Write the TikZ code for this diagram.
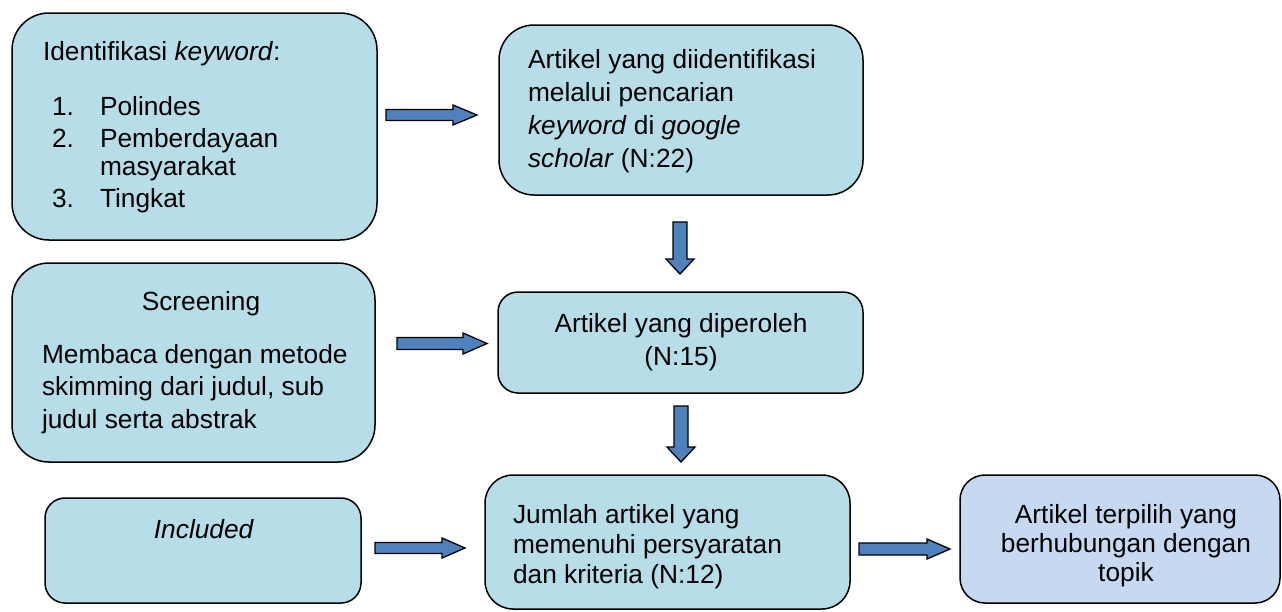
\documentclass[tikz,border=0pt]{standalone}
\usepackage{fontspec}
\setmainfont{Liberation Sans}
\usetikzlibrary{calc}
\definecolor{boxfill}{HTML}{B7DDE8}
\definecolor{boxfillb}{HTML}{C6D9F1}
\definecolor{arrowblue}{HTML}{4F81BD}
\begin{document}
\begin{tikzpicture}[x=1pt,y=-1pt,
  box/.style={draw=black, line width=1.5pt, fill=boxfill, anchor=north west, inner sep=0pt, outer sep=0pt},
  txt/.style={inner sep=0pt, outer sep=0pt, font=\fontsize{26.3}{33}\selectfont},
  blk/.style={draw=black, line width=1.3pt, fill=arrowblue, line join=miter}
]
\useasboundingbox (0,0) rectangle (1282,611);
% boxes
\node[box, rounded corners=37pt, minimum width=365pt, minimum height=227pt] (A) at (12,13) {};
\node[box, rounded corners=35pt, minimum width=364pt, minimum height=170pt] (B) at (499,25) {};
\node[box, rounded corners=37pt, minimum width=363pt, minimum height=199pt] (C) at (12,263) {};
\node[box, rounded corners=20pt, minimum width=365pt, minimum height=101pt] (D) at (498,292) {};
\node[box, rounded corners=20pt, minimum width=316pt, minimum height=105pt] (E) at (45,498) {};
\node[box, rounded corners=28pt, minimum width=365pt, minimum height=134pt] (F) at (485,475) {};
\node[box, fill=boxfillb, rounded corners=25pt, minimum width=320pt, minimum height=128pt] (G) at (960,475) {};
% texts box A
\node[txt, anchor=base west] (ta) at (43,60) {Identifikasi \textit{keyword}:};
\node[txt, anchor=base west] (n1) at (52,115) {1.};
\node[txt, anchor=base west] (n2) at (52,147) {2.};
\node[txt, anchor=base west] (n3) at (52,207) {3.};
\node[txt, anchor=base west] (i1) at (100,115) {Polindes};
\node[txt, anchor=base west] (i2) at (100,147) {Pemberdayaan};
\node[txt, anchor=base west] (i2b) at (100,175) {masyarakat};
\node[txt, anchor=base west] (i3) at (100,207) {Tingkat};
% box B
\node[txt, anchor=north west, align=left] (tb) at (528,48)
  {\rule{0pt}{20pt}Artikel yang diidentifikasi\\ melalui pencarian\\ \textit{keyword} di \textit{google}\\ \textit{scholar} (N:22)};
% box C
\node[txt, anchor=base] (tc1) at (201,310) {Screening};
\node[txt, anchor=north west, align=left, font=\fontsize{26.3}{32.5}\selectfont] (tc2) at (42,343)
  {\rule{0pt}{20pt}Membaca dengan metode\\ skimming dari judul, sub\\ judul serta abstrak};
% box D
\node[txt, anchor=north, align=center] (td) at (681,312)
  {\rule{0pt}{20pt}Artikel yang diperoleh\\ (N:15)};
% box E
\node[txt, anchor=base] (te) at (204,538) {\textit{Included}};
% box F
\node[txt, anchor=north west, align=left, font=\fontsize{26.3}{30}\selectfont] (tf) at (513,503)
  {\rule{0pt}{20pt}Jumlah artikel yang\\ memenuhi persyaratan\\ dan kriteria (N:12)};
% box G
\node[txt, anchor=north, align=center, font=\fontsize{26.3}{29}\selectfont] (tg) at (1126,503)
  {\rule{0pt}{20pt}Artikel terpilih yang\\ berhubungan dengan\\ topik};
% block arrows
\coordinate (a1) at ($(A.east)+(9,-11.5)$);
\draw[blk] (a1) ++(0,-5.5) -- ++(67,0) -- ++(0,-4.5) -- ++(24,10) -- ++(-24,10) -- ++(0,-4.5) -- ++(-67,0) -- cycle;
\coordinate (a2) at ($(C.east)+(22,-19)$);
\draw[blk] (a2) ++(0,-6) -- ++(66,0) -- ++(0,-4.5) -- ++(24,10.5) -- ++(-24,10.5) -- ++(0,-4.5) -- ++(-66,0) -- cycle;
\coordinate (a3) at ($(E.east)+(14,-2.5)$);
\draw[blk] (a3) ++(0,-5.5) -- ++(67,0) -- ++(0,-4.5) -- ++(23,10) -- ++(-23,10) -- ++(0,-4.5) -- ++(-67,0) -- cycle;
\coordinate (a4) at ($(F.east)+(9,7)$);
\draw[blk] (a4) ++(0,-6) -- ++(68,0) -- ++(0,-4) -- ++(23,10) -- ++(-23,10) -- ++(0,-4) -- ++(-68,0) -- cycle;
\coordinate (d1) at ($(B.south)+(-1,27)$);
\draw[blk] (d1) ++(-7,0) -- ++(0,37) -- ++(-7,0) -- ++(14,15) -- ++(14,-15) -- ++(-7,0) -- ++(0,-37) -- cycle;
\coordinate (d2) at ($(D.south)+(0.5,13)$);
\draw[blk] (d2) ++(-7,0) -- ++(0,41) -- ++(-7,0) -- ++(14,15) -- ++(14,-15) -- ++(-7,0) -- ++(0,-41) -- cycle;
\end{tikzpicture}
\end{document}
